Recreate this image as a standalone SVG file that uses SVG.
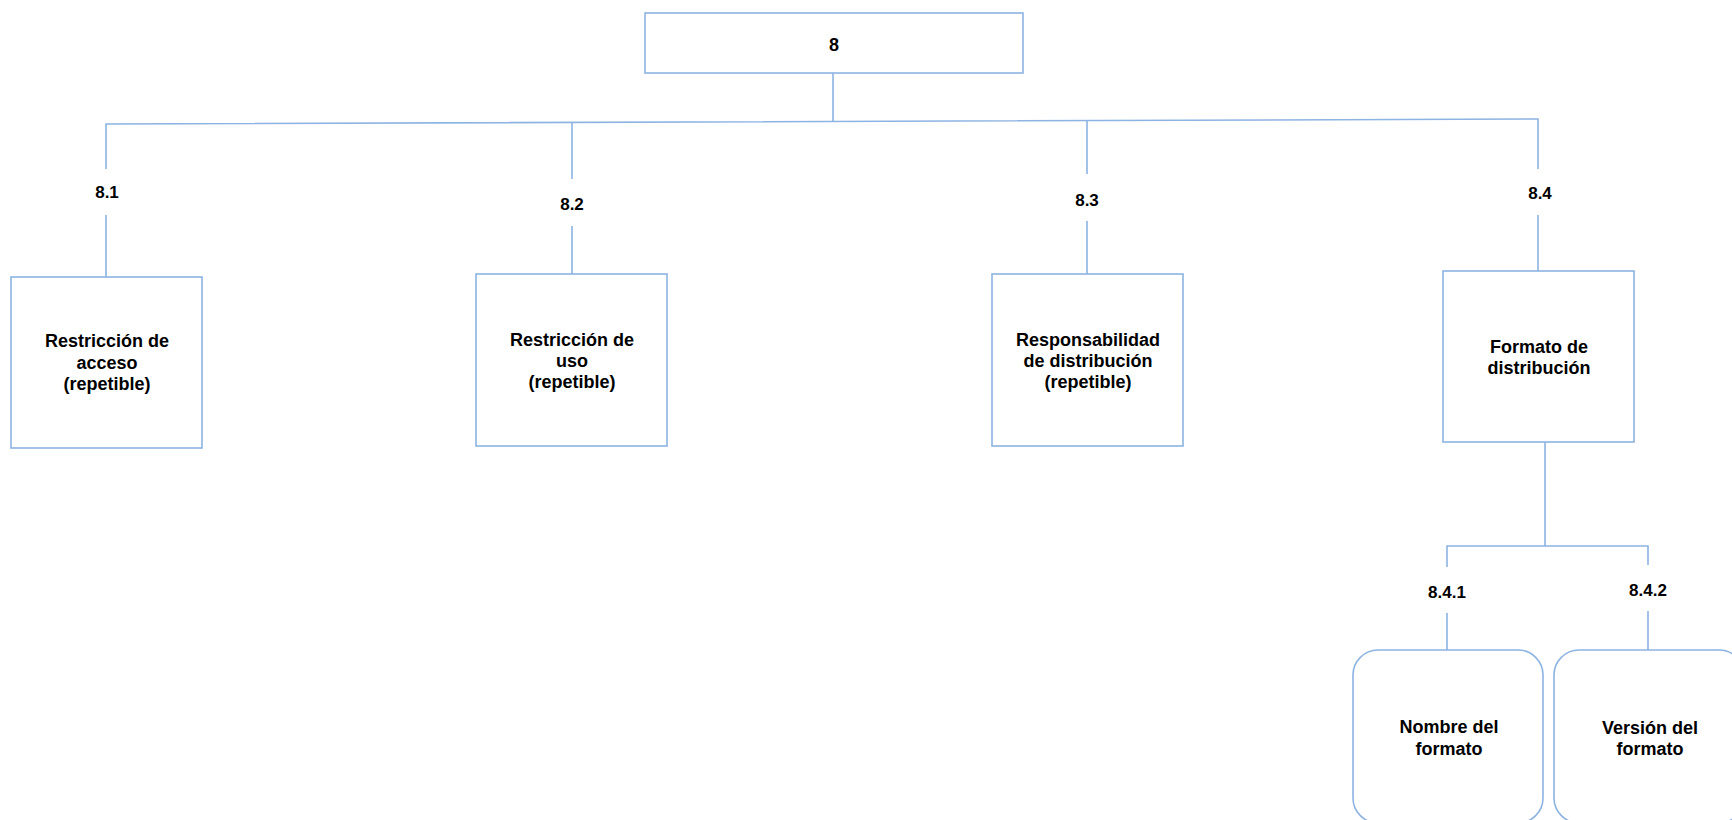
<svg xmlns="http://www.w3.org/2000/svg" width="1732" height="820" viewBox="0 0 1732 820">
<style>
.box{fill:#fff;stroke:#8db3e2;stroke-width:1.6}
.ln{fill:none;stroke:#8db3e2;stroke-width:1.6}
.t{font-family:"Liberation Sans",Arial,sans-serif;font-weight:bold;font-size:18px;fill:#000;text-anchor:middle}
.lb{font-family:"Liberation Sans",Arial,sans-serif;font-weight:bold;font-size:17px;fill:#000;text-anchor:middle}
</style>
<rect width="1732" height="820" fill="#fff"/>
<g id="connectors">
<path class="ln" d="M833,73 V122"/>
<path class="ln" d="M106,169 V124 L1538,119 V169"/>
<path class="ln" d="M572,123 V179"/>
<path class="ln" d="M1087,121 V174"/>
<path class="ln" d="M106,215 V277"/>
<path class="ln" d="M572,226 V274"/>
<path class="ln" d="M1087,221 V274"/>
<path class="ln" d="M1538,215 V271"/>
<path class="ln" d="M1545,442 V546"/>
<path class="ln" d="M1447,567 V546 H1648 V565"/>
<path class="ln" d="M1447,613 V650"/>
<path class="ln" d="M1648,611 V650"/>
</g>
<g id="n8">
<rect class="box" x="645" y="13" width="378" height="60"/>
<text class="t" x="834" y="51">8</text>
</g>
<g id="l81"><text class="lb" x="107" y="198">8.1</text></g>
<g id="l82"><text class="lb" x="572" y="210">8.2</text></g>
<g id="l83"><text class="lb" x="1087" y="206">8.3</text></g>
<g id="l84"><text class="lb" x="1540" y="199">8.4</text></g>
<g id="l841"><text class="lb" x="1447" y="598">8.4.1</text></g>
<g id="l842"><text class="lb" x="1648" y="596">8.4.2</text></g>
<g id="n81">
<rect class="box" x="11" y="277" width="191" height="171"/>
<text class="t" x="107" y="347">Restricción de</text>
<text class="t" x="107" y="369">acceso</text>
<text class="t" x="107" y="390">(repetible)</text>
</g>
<g id="n82">
<rect class="box" x="476" y="274" width="191" height="172"/>
<text class="t" x="572" y="346">Restricción de</text>
<text class="t" x="572" y="367">uso</text>
<text class="t" x="572" y="388">(repetible)</text>
</g>
<g id="n83">
<rect class="box" x="992" y="274" width="191" height="172"/>
<text class="t" x="1088" y="346">Responsabilidad</text>
<text class="t" x="1088" y="367">de distribución</text>
<text class="t" x="1088" y="388">(repetible)</text>
</g>
<g id="n84">
<rect class="box" x="1443" y="271" width="191" height="171"/>
<text class="t" x="1539" y="353">Formato de</text>
<text class="t" x="1539" y="374">distribución</text>
</g>
<g id="n841">
<rect class="box" x="1353" y="650" width="190" height="173" rx="25" ry="25"/>
<text class="t" x="1449" y="733">Nombre del</text>
<text class="t" x="1449" y="755">formato</text>
</g>
<g id="n842">
<rect class="box" x="1554" y="650" width="190" height="173" rx="25" ry="25"/>
<text class="t" x="1650" y="734">Versión del</text>
<text class="t" x="1650" y="755">formato</text>
</g>
</svg>
